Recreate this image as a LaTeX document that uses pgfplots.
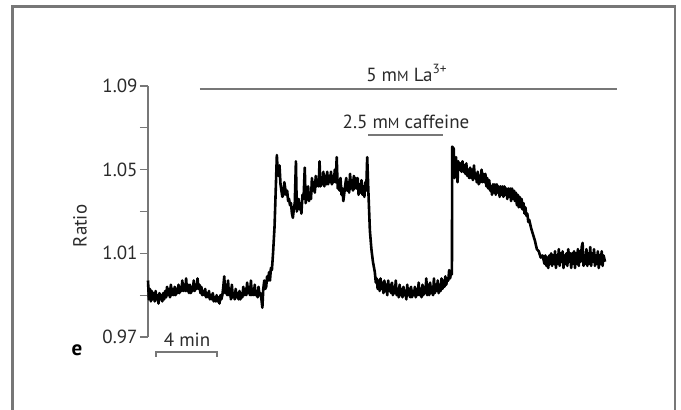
\documentclass[border=0pt]{standalone}
\usepackage{fontspec}
\setmainfont{PT Sans}
\usepackage{pgfplots}
\pgfplotsset{compat=1.18}
\usepackage{pgfplotstable}
\definecolor{txt}{HTML}{2A2A2A}
\definecolor{bar}{HTML}{777777}
\newcommand{\mM}{m{\fontsize{7.3}{8}\selectfont M}}

% ratio trace, time in min
\pgfplotstableread{
t r
0.000 0.997
0.06 0.988
0.125 0.993
0.19 0.987
0.25 0.992
0.31 0.988
0.375 0.991
0.44 0.987
0.5 0.992
0.56 0.988
0.625 0.990
0.69 0.986
0.75 0.991
0.81 0.988
0.875 0.990
0.94 0.987
1.0 0.991
1.06 0.988
1.125 0.992
1.19 0.989
1.25 0.994
1.31 0.990
1.375 0.993
1.44 0.989
1.5 0.995
1.56 0.990
1.625 0.993
1.69 0.990
1.75 0.994
1.81 0.990
1.875 0.993
1.94 0.991
2.0 0.995
2.06 0.991
2.125 0.994
2.19 0.992
2.25 0.997
2.31 0.992
2.375 0.995
2.44 0.992
2.5 0.998
2.56 0.992
2.625 0.995
2.69 0.991
2.75 0.995
2.81 0.991
2.875 0.994
2.94 0.992
3.0 0.997
3.06 0.992
3.125 0.995
3.19 0.993
3.25 0.998
3.31 0.993
3.375 0.995
3.44 0.991
3.5 0.994
3.56 0.990
3.625 0.992
3.69 0.990
3.75 0.993
3.81 0.989
3.875 0.991
3.94 0.989
4.0 0.992
4.06 0.988
4.125 0.990
4.19 0.988
4.25 0.991
4.31 0.987
4.375 0.989
4.44 0.987
4.5 0.990
4.56 0.987
4.625 0.989
4.69 0.986
4.75 0.990
4.81 0.988
4.875 0.990
4.94 0.994
5.0 0.999
5.06 0.991
5.125 0.995
5.19 0.990
5.25 0.997
5.31 0.990
5.375 0.993
5.44 0.988
5.5 0.995
5.56 0.989
5.625 0.991
5.69 0.988
5.75 0.993
5.81 0.989
5.875 0.991
5.94 0.988
6.0 0.992
6.06 0.988
6.125 0.991
6.19 0.989
6.25 0.994
6.31 0.990
6.375 0.993
6.44 0.990
6.5 0.996
6.56 0.991
6.625 0.994
6.69 0.990
6.75 0.997
6.81 0.990
6.875 0.993
6.94 0.990
7.0 0.995
7.06 0.990
7.125 0.992
7.19 0.989
7.25 0.994
7.31 0.990
7.375 0.991
7.44 0.988
7.50 0.984
7.56 0.993
7.625 0.997
7.69 0.993
7.75 0.994
7.81 0.999
7.875 0.997
7.94 1.001
8.000 0.997
8.06 1.003
8.125 1.002
8.200 1.010
8.300 1.023
8.375 1.040
8.450 1.057
8.500 1.050
8.550 1.047
8.625 1.052
8.69 1.043
8.750 1.040
8.81 1.037
8.875 1.038
8.94 1.044
9.000 1.041
9.06 1.038
9.125 1.040
9.19 1.035
9.250 1.036
9.31 1.033
9.375 1.034
9.44 1.029
9.500 1.027
9.56 1.031
9.625 1.034
9.700 1.054
9.760 1.030
9.875 1.036
9.94 1.031
10.000 1.034
10.06 1.029
10.130 1.038
10.200 1.036
10.280 1.051
10.340 1.034
10.400 1.038
10.500 1.042
10.56 1.035
10.625 1.039
10.69 1.036
10.750 1.046
10.81 1.040
10.875 1.044
10.94 1.039
11.000 1.047
11.06 1.042
11.125 1.045
11.19 1.042
11.250 1.054
11.31 1.042
11.375 1.046
11.44 1.043
11.500 1.049
11.56 1.042
11.625 1.047
11.69 1.043
11.750 1.049
11.81 1.043
11.875 1.047
11.94 1.044
12.000 1.049
12.06 1.043
12.125 1.047
12.19 1.044
12.250 1.050
12.31 1.044
12.375 1.056
12.44 1.041
12.500 1.045
12.56 1.040
12.625 1.046
12.69 1.038
12.750 1.041
12.81 1.035
12.875 1.039
12.94 1.043
13.000 1.046
13.06 1.040
13.125 1.044
13.19 1.039
13.250 1.048
13.31 1.041
13.375 1.045
13.44 1.040
13.500 1.047
13.56 1.041
13.625 1.046
13.69 1.041
13.750 1.046
13.81 1.038
13.875 1.043
13.94 1.039
14.000 1.045
14.06 1.038
14.125 1.042
14.19 1.037
14.250 1.044
14.31 1.040
14.375 1.056
14.450 1.040
14.550 1.021
14.650 1.012
14.750 1.006
14.875 1.001
14.94 0.996
15.000 0.998
15.06 0.993
15.125 0.997
15.19 0.992
15.25 0.998
15.31 0.993
15.375 0.996
15.44 0.991
15.5 0.997
15.56 0.992
15.625 0.995
15.69 0.990
15.75 0.997
15.81 0.992
15.875 0.995
15.94 0.991
16.0 0.996
16.06 0.990
16.125 0.994
16.19 0.991
16.25 0.997
16.31 0.990
16.375 0.993
16.44 0.989
16.5 0.995
16.56 0.990
16.625 0.993
16.69 0.989
16.75 0.994
16.81 0.990
16.875 0.992
16.94 0.988
17.0 0.995
17.06 0.990
17.125 0.993
17.19 0.989
17.25 0.994
17.31 0.989
17.375 0.992
17.44 0.990
17.5 0.994
17.56 0.989
17.625 0.993
17.69 0.990
17.75 0.996
17.81 0.990
17.875 0.993
17.94 0.989
18.0 0.995
18.06 0.990
18.125 0.994
18.19 0.991
18.25 0.998
18.31 0.990
18.375 0.995
18.44 0.990
18.5 0.996
18.56 0.991
18.625 0.994
18.69 0.990
18.75 0.998
18.81 0.991
18.875 0.995
18.94 0.992
19.0 0.997
19.06 0.991
19.125 0.995
19.19 0.992
19.25 0.998
19.31 0.993
19.375 0.997
19.44 0.994
19.5 0.999
19.56 0.995
19.625 0.998
19.69 0.997
19.75 1.002
19.81 0.998
19.875 1.001
19.930 1.000
19.950 1.061
20.050 1.060
20.100 1.046
20.200 1.056
20.300 1.044
20.350 1.054
20.43 1.050
20.5 1.053
20.56 1.049
20.625 1.054
20.69 1.049
20.75 1.052
20.81 1.048
20.875 1.053
20.94 1.047
21.0 1.050
21.06 1.046
21.125 1.051
21.19 1.046
21.25 1.050
21.31 1.045
21.375 1.052
21.44 1.046
21.5 1.048
21.56 1.044
21.625 1.049
21.69 1.043
21.75 1.047
21.81 1.044
21.875 1.050
21.94 1.044
22.0 1.048
22.06 1.044
22.125 1.048
22.19 1.042
22.25 1.046
22.31 1.041
22.375 1.045
22.44 1.040
22.5 1.042
22.56 1.038
22.625 1.043
22.69 1.039
22.75 1.043
22.81 1.038
22.875 1.043
22.94 1.039
23.0 1.042
23.06 1.037
23.125 1.042
23.19 1.038
23.25 1.042
23.31 1.037
23.375 1.042
23.44 1.038
23.5 1.041
23.56 1.036
23.625 1.041
23.69 1.037
23.75 1.041
23.81 1.035
23.875 1.041
23.94 1.036
24.0 1.040
24.06 1.035
24.125 1.039
24.19 1.033
24.25 1.038
24.31 1.032
24.375 1.037
24.44 1.032
24.5 1.036
24.56 1.031
24.625 1.034
24.69 1.029
24.75 1.032
24.81 1.028
24.875 1.029
24.94 1.025
25.000 1.026
25.125 1.022
25.250 1.019
25.375 1.016
25.500 1.012
25.625 1.011
25.750 1.008
25.875 1.009
26.0 1.005
26.06 1.009
26.125 1.004
26.19 1.008
26.25 1.003
26.31 1.009
26.375 1.005
26.44 1.010
26.5 1.004
26.56 1.009
26.625 1.005
26.69 1.011
26.75 1.003
26.81 1.009
26.875 1.005
26.94 1.012
27.0 1.004
27.06 1.010
27.125 1.006
27.19 1.011
27.25 1.003
27.31 1.009
27.375 1.005
27.44 1.010
27.5 1.004
27.56 1.012
27.625 1.006
27.69 1.010
27.75 1.003
27.81 1.010
27.875 1.005
27.94 1.011
28.0 1.003
28.06 1.010
28.125 1.005
28.19 1.012
28.25 1.004
28.31 1.011
28.375 1.006
28.44 1.013
28.5 1.015
28.56 1.004
28.625 1.009
28.69 1.005
28.75 1.012
28.81 1.004
28.875 1.010
28.94 1.005
29.0 1.013
29.06 1.004
29.125 1.010
29.19 1.006
29.25 1.012
29.31 1.004
29.375 1.009
29.44 1.005
29.5 1.011
29.56 1.003
29.625 1.009
29.69 1.005
29.75 1.011
29.81 1.004
29.875 1.009
29.97 1.006
}\trace

\begin{document}
\begin{tikzpicture}
\useasboundingbox (-74pt,-36pt) rectangle (266.5pt,168.5pt);
\fill[white] (-74pt,-36pt) rectangle (266.5pt,168.5pt);
\begin{axis}[
    at={(0,0)}, anchor=south west,
    scale only axis,
    width=229.5pt, height=125.5pt,
    xmin=0, xmax=30.1,
    ymin=0.97, ymax=1.09,
    axis x line=none,
    axis y line*=left,
    clip=false,
    ytick={0.97,1.01,1.05,1.09},
    minor ytick={0.99,1.03,1.07},
    tick align=outside,
    major tick length=4pt,
    minor tick length=4pt,
    every tick/.style={bar, line width=0.6pt},
    axis line style={bar, line width=0.6pt, -},
    yticklabel style={
        font=\fontsize{9.5}{11}\selectfont, text=txt, inner sep=1pt,
        /pgf/number format/fixed,
        /pgf/number format/fixed zerofill,
        /pgf/number format/precision=2},
    /pgf/number format/assume math mode=true,
]
\addplot[black, line width=1.3pt, line join=round] table[x=t, y=r] {\trace};

% La3+ bar and caffeine bar
\addplot[bar, line width=0.7pt] coordinates {(3.41,1.0886) (30.75,1.0886)};
\addplot[bar, line width=0.7pt] coordinates {(14.43,1.0666) (19.34,1.0666)};
\node[text=txt, font=\fontsize{9.5}{11}\selectfont] at (axis cs:16.98,1.0962) {5 \mM{} La\textsuperscript{3+}};
\node[text=txt, font=\fontsize{9.5}{11}\selectfont] at (axis cs:16.92,1.0728) {2.5 \mM{} caffeine};

% scale bar
\addplot[bar, line width=0.6pt] coordinates {(0.52,0.9605) (0.52,0.9628) (4.52,0.9628) (4.52,0.9605)};
\node[text=txt, font=\fontsize{9.5}{11}\selectfont] at (axis cs:2.56,0.9686) {4 min};

\node[text=txt, rotate=90, font=\fontsize{9.5}{11}\selectfont] at (axis cs:-4.46,1.0231) {Ratio};
\node[text=black, font=\fontsize{10.5}{12}\selectfont\bfseries] at (axis cs:-4.66,0.9638) {e};
\end{axis}
\draw[bar, line width=1.1pt] (-67.75pt,-40pt) -- (-67.75pt,165.25pt) -- (263.5pt,165.25pt) -- (263.5pt,-40pt);
\end{tikzpicture}
\end{document}
